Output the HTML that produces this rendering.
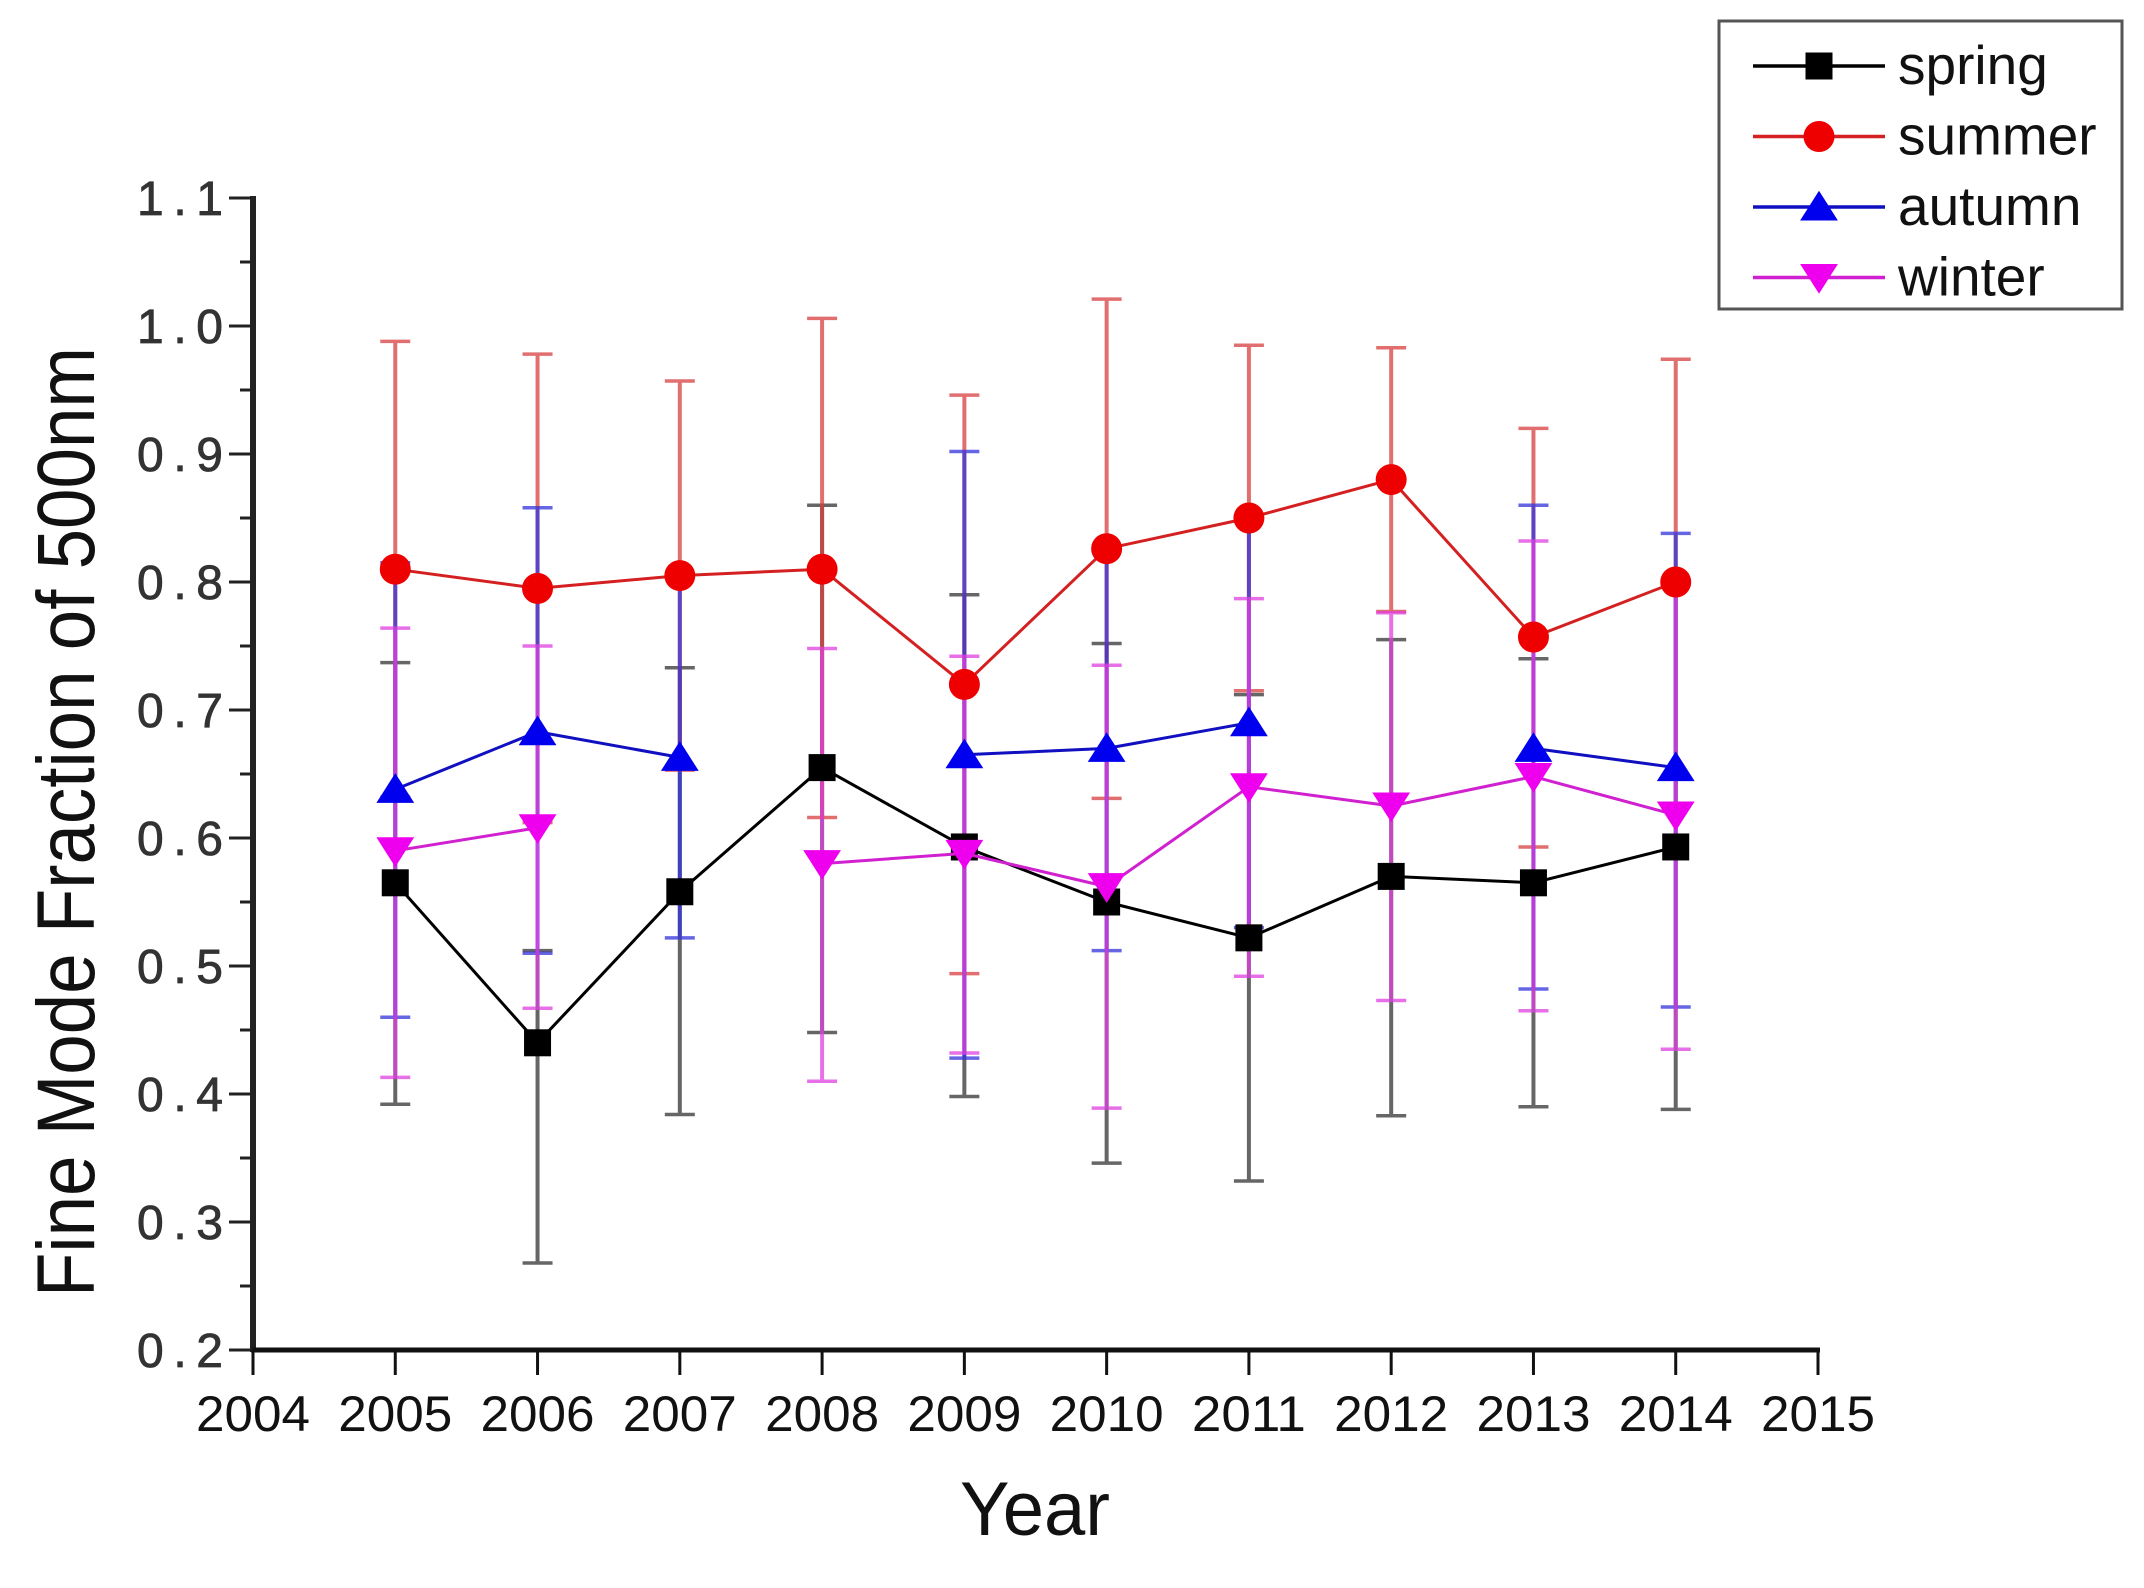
<!DOCTYPE html>
<html><head><meta charset="utf-8"><style>
html,body{margin:0;padding:0;background:#fff;}
svg{display:block;}
</style></head><body>
<svg id="chart" width="2144" height="1588" viewBox="0 0 2144 1588" xmlns="http://www.w3.org/2000/svg"></svg>
<script>
const years = [2005,2006,2007,2008,2009,2010,2011,2012,2013,2014];
const xTicks = [2004,2005,2006,2007,2008,2009,2010,2011,2012,2013,2014,2015];
const yTicks = [0.2,0.3,0.4,0.5,0.6,0.7,0.8,0.9,1.0,1.1];
const springVals = [0.565,0.44,0.558,0.655,0.593,0.55,0.522,0.57,0.565,0.593];
const springHi   = [0.737,0.512,0.733,0.86,0.79,0.752,0.712,0.755,0.74,0.798];
const springLo   = [0.392,0.268,0.384,0.448,0.398,0.346,0.332,0.383,0.39,0.388];
const summerVals = [0.81,0.795,0.805,0.81,0.72,0.826,0.85,0.88,0.757,0.8];
const summerHi   = [0.988,0.978,0.957,1.006,0.946,1.021,0.985,0.983,0.92,0.974];
const summerLo   = [0.632,0.612,0.653,0.616,0.494,0.631,0.715,0.777,0.593,0.626];
const autumnVals = [0.638,0.683,0.663,null,0.665,0.67,0.69,null,0.67,0.655];
const autumnHi   = [0.815,0.858,0.805,null,0.902,0.828,0.852,null,0.86,0.838];
const autumnLo   = [0.46,0.51,0.522,null,0.428,0.512,0.53,null,0.482,0.468];
const winterVals = [0.59,0.608,null,0.58,0.588,0.562,0.64,0.625,0.648,0.618];
const winterHi   = [0.764,0.75,null,0.748,0.742,0.735,0.787,0.776,0.832,0.8];
const winterLo   = [0.413,0.467,null,0.41,0.432,0.389,0.492,0.473,0.465,0.435];

const L=253,R=1818,T=198,B=1350;
const X=v=>L+(v-2004)/(2015-2004)*(R-L);
const Y=v=>B-(v-0.2)/(1.1-0.2)*(B-T);
const NS='http://www.w3.org/2000/svg';
const svg=document.getElementById('chart');
function mk(tag,attrs,parent){const e=document.createElementNS(NS,tag);for(const k in attrs)e.setAttribute(k,attrs[k]);(parent||svg).appendChild(e);return e;}

const axes=mk('g',{});


mk('line',{x1:L,y1:T-2,x2:L,y2:B+2,stroke:'#222','stroke-width':6},axes);
mk('line',{x1:L-2,y1:B,x2:R+2,y2:B,stroke:'#111','stroke-width':5},axes);
for(let i=0;i<yTicks.length;i++){
  const v=yTicks[i],y=Y(v);
  mk('line',{x1:L-24,y1:y,x2:L,y2:y,stroke:'#222','stroke-width':3},axes);
  if(i<yTicks.length-1){const ym=Y(v+0.05);mk('line',{x1:L-13,y1:ym,x2:L,y2:ym,stroke:'#222','stroke-width':3},axes);}
  const t=mk('text',{x:L-30,y:y+17,'text-anchor':'end','font-family':'Liberation Sans, sans-serif','font-size':48,fill:'#333',stroke:'#333','stroke-width':0.8,textLength:86,lengthAdjust:'spacing'},axes);
  t.textContent=v.toFixed(1);
  
  
}
xTicks.forEach(v=>{
  const x=X(v);
  mk('line',{x1:x,y1:B,x2:x,y2:B+25,stroke:'#111','stroke-width':3},axes);
  const t=mk('text',{x:x,y:1431,'text-anchor':'middle','font-family':'Liberation Sans, sans-serif','font-size':50,fill:'#111',textLength:114,lengthAdjust:'spacingAndGlyphs'},axes);
  t.textContent=v;
  
  
});
const xt=mk('text',{x:1035,y:1535,'text-anchor':'middle','font-family':'Liberation Sans, sans-serif','font-size':76,fill:'#111',textLength:150,lengthAdjust:'spacingAndGlyphs'});
xt.textContent='Year';


const yt=mk('text',{x:0,y:0,'text-anchor':'middle','font-family':'Liberation Sans, sans-serif','font-size':82,fill:'#111',textLength:950,lengthAdjust:'spacingAndGlyphs',transform:'translate(94,822) rotate(-90)'});
yt.textContent='Fine Mode Fraction of 500nm';



const series=[
 {name:'spring',color:'#000',bar:'#333',vals:springVals,hi:springHi,lo:springLo,m:'square'},
 {name:'summer',color:'#d42020',bar:'#d84040',vals:summerVals,hi:summerHi,lo:summerLo,m:'circle'},
 {name:'autumn',color:'#1010c0',bar:'#3333dd',vals:autumnVals,hi:autumnHi,lo:autumnLo,m:'up'},
 {name:'winter',color:'#d020d0',bar:'#e040e0',vals:winterVals,hi:winterHi,lo:winterLo,m:'down'}
];
const fills={spring:'#000',summer:'#ee0000',autumn:'#0000ee',winter:'#ee00ee'};
function marker(g,s,x,y,sz){
  const f=fills[s.name];let e;
  if(s.m==='square')e=mk('rect',{x:x-sz/2,y:y-sz/2,width:sz,height:sz,fill:f},g);
  else if(s.m==='circle')e=mk('circle',{cx:x,cy:y,r:sz/2+2,fill:f},g);
  else if(s.m==='up')e=mk('polygon',{points:`${x},${y-sz*0.6} ${x-sz*0.7},${y+sz*0.5} ${x+sz*0.7},${y+sz*0.5}`,fill:f},g);
  else e=mk('polygon',{points:`${x},${y+sz*0.6} ${x-sz*0.7},${y-sz*0.5} ${x+sz*0.7},${y-sz*0.5}`,fill:f},g);
  return e;
}
series.forEach(s=>{
  const g=mk('g',{opacity:0.75});
  
  
  years.forEach((yr,i)=>{
    if(s.vals[i]==null)return;
    const x=X(yr);
    mk('line',{x1:x,y1:Y(s.hi[i]),x2:x,y2:Y(s.lo[i]),stroke:s.bar,'stroke-width':4},g);
    mk('line',{x1:x-15,y1:Y(s.hi[i]),x2:x+15,y2:Y(s.hi[i]),stroke:s.bar,'stroke-width':3.5},g);
    mk('line',{x1:x-15,y1:Y(s.lo[i]),x2:x+15,y2:Y(s.lo[i]),stroke:s.bar,'stroke-width':3.5},g);
  });
});
series.forEach(s=>{
  const g=mk('g',{});
  
  
  for(let i=0;i<years.length-1;i++){
    if(s.vals[i]==null||s.vals[i+1]==null)continue;
    mk('line',{x1:X(years[i]),y1:Y(s.vals[i]),x2:X(years[i+1]),y2:Y(s.vals[i+1]),stroke:s.color,'stroke-width':3},g);
  }
  years.forEach((yr,i)=>{
    if(s.vals[i]==null)return;
    const e=marker(g,s,X(yr),Y(s.vals[i]),27);
    
    
  });
});
const lg=mk('g',{});


mk('rect',{x:1719,y:21,width:403,height:288,fill:'#fff',stroke:'#555','stroke-width':3},lg);
series.forEach((s,i)=>{
  const y=66+i*70.5;
  const e=mk('g',{},lg);
  
  
  mk('line',{x1:1753,y1:y,x2:1885,y2:y,stroke:s.color,'stroke-width':3.5},e);
  marker(e,s,1819,y,27);
  const t=mk('text',{x:1898,y:y+18,'font-family':'Liberation Sans, sans-serif','font-size':55,fill:'#111'},e);
  t.textContent=s.name;
});
</script>
</body></html>
